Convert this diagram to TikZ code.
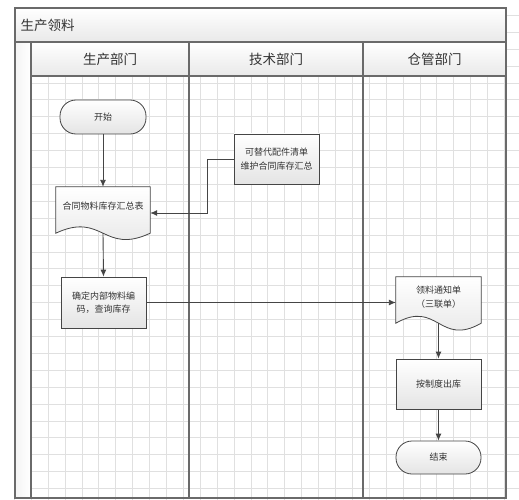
\documentclass[tikz,border=0pt]{standalone}
\usepackage{fontspec}
\newfontfamily\cjk{Noto Sans CJK SC}
\usetikzlibrary{arrows.meta,calc}
\definecolor{gridc}{HTML}{E0E0E0}
\definecolor{framec}{HTML}{6A6A6A}
\definecolor{linec}{HTML}{454545}
\definecolor{txt}{HTML}{333333}
\definecolor{shadeb}{HTML}{E4E4E4}
\definecolor{barb}{HTML}{E9E9E9}
\begin{document}
\begin{tikzpicture}[x=1pt,y=-1pt,
  every node/.style={text=txt},
  procbox/.style={draw=linec, line width=0.8pt, top color=white, bottom color=shadeb,
    minimum width=85pt, minimum height=50pt, inner sep=2pt, align=center,
    font=\cjk\fontsize{9}{13.5}\selectfont},
  termbox/.style={draw=linec, line width=0.8pt, top color=white, bottom color=shadeb,
    rounded corners=16pt, minimum width=86pt, minimum height=34pt, inner sep=2pt,
    font=\cjk\fontsize{9}{13.5}\selectfont},
  docbox/.style={minimum width=94pt, minimum height=46pt, inner sep=0pt},
  docfill/.style={draw=linec, line width=0.8pt, top color=white, bottom color=shadeb},
  doctext/.style={align=center, font=\cjk\fontsize{9}{13.5}\selectfont},
  hdr/.style={font=\cjk\fontsize{13.5}{16}\selectfont},
  conn/.style={draw=linec, line width=0.9pt, -{Latex[length=7pt,width=6pt]}},
  frame/.style={draw=framec, line width=1.1pt}
]
\useasboundingbox (0,0) rectangle (519,500);
\fill[white] (0,0) rectangle (519,500);
% grid
\foreach \i in {0,...,30} {\draw[gridc, line width=0.5pt] ({14.2+16.9*\i},8) -- ({14.2+16.9*\i},500);}
\foreach \j in {0,...,29} {\draw[gridc, line width=0.5pt] (15,{15.2+16.9*\j}) -- (519,{15.2+16.9*\j});}
% title bar, headers, left strip
\path[top color=white, bottom color=barb] (15,8) rectangle (506,42);
\path[top color=white, bottom color=barb] (31,42) rectangle (506,76);
\path[left color=barb!50, right color=white] (15,42) rectangle (31,498);
\draw[frame] (15,8) rectangle (506,498);
\draw[frame] (15,42) -- (506,42);
\draw[frame] (31,42) -- (31,498);
\draw[frame] (31,76) -- (506,76);
\draw[frame] (189,42) -- (189,498);
\draw[frame] (363,42) -- (363,498);
\node[hdr, anchor=west] (title) at (17,25) {生产领料};
\node[hdr] (h1) at (110,59) {生产部门};
\node[hdr] (h2) at (276,59) {技术部门};
\node[hdr] (h3) at (434.5,59) {仓管部门};
% nodes
\node[termbox] (start) at (103,117) {开始};
\node[docbox] (doc1) at (103,210) {};
\path[docfill] (doc1.north west) -- (doc1.north east) -- (doc1.south east)
  .. controls ($(doc1.south east)+(-47,22)$) and ($(doc1.south west)+(47,-22)$) .. (doc1.south west) -- cycle;
\node[doctext] (doc1t) at ($(doc1.center)+(0,-4)$) {合同物料库存汇总表};
\node[procbox] (alt) at (276.5,159) {可替代配件清单\\维护合同库存汇总};
\node[procbox, minimum height=51pt] (confirm) at (103.5,302.5) {确定内部物料编\\码，查询库存};
\node[docbox, minimum width=85pt] (doc2) at (438.5,300) {};
\path[docfill] (doc2.north west) -- (doc2.north east) -- (doc2.south east)
  .. controls ($(doc2.south east)+(-42,24)$) and ($(doc2.south west)+(42,-24)$) .. (doc2.south west) -- cycle;
\node[doctext] (doc2t) at ($(doc2.center)+(0,-3)$) {领料通知单\\（三联单）};
\node[procbox] (out) at (438.5,384) {按制度出库};
\node[termbox, minimum width=85pt, minimum height=33pt] (end) at (438.5,457.5) {结束};
% connectors
\draw[conn] (start.south) -- (doc1.north);
\draw[conn] (alt.west) -- ++(-26,0) |- ($(doc1.east)+(0,3)$);
\draw[conn] (doc1.south) -- (confirm.north);
\draw[conn] (confirm.east) -- (confirm.east -| doc2.west);
\draw[conn] (doc2.south) -- (out.north);
\draw[conn] (out.south) -- (end.north);
\end{tikzpicture}
\end{document}
